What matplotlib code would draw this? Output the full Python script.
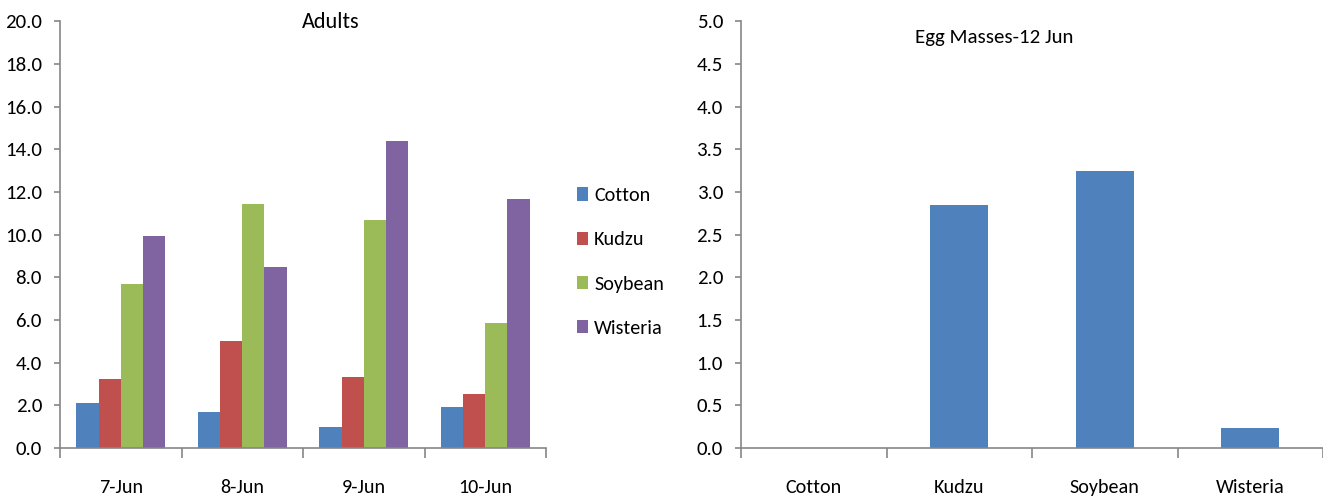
import numpy as np
import matplotlib.pyplot as plt
from matplotlib.patches import Patch

dates = ["7-Jun", "8-Jun", "9-Jun", "10-Jun"]
plants = ["Cotton", "Kudzu", "Soybean", "Wisteria"]
cotton = [2.10, 1.67, 0.97, 1.93]
kudzu = [3.25, 5.00, 3.33, 2.55]
soybean = [7.67, 11.42, 10.71, 5.84]
wisteria = [9.94, 8.47, 14.38, 11.67]
egg_masses = [0.0, 2.85, 3.25, 0.24]

colors = ["#4F81BD", "#C0504D", "#9BBB59", "#8064A2"]
axis_grey = "#868686"

plt.rcParams["font.family"] = ["Carlito", "Liberation Sans", "DejaVu Sans"]
plt.rcParams["font.size"] = 14


def style_axes(ax, ymax, ystep):
    for side in ["top", "right"]:
        ax.spines[side].set_visible(False)
    for side in ["left", "bottom"]:
        ax.spines[side].set_color(axis_grey)
        ax.spines[side].set_linewidth(1.2)
    ax.set_xlim(-0.5, 3.5)
    ax.set_ylim(0, ymax)
    ax.set_yticks(np.arange(0, ymax + ystep / 2, ystep))
    ax.yaxis.set_major_formatter(plt.FormatStrFormatter("%.1f"))
    ax.tick_params(axis="y", length=4, width=1.2, color=axis_grey, pad=9, labelsize=15)
    # category boundaries get the tick marks, labels sit at the centres
    ax.set_xticks(np.arange(-0.5, 4, 1.0))
    ax.set_xticklabels([])
    ax.tick_params(axis="x", which="major", length=7, width=1.2, color=axis_grey)
    ax.set_xticks(np.arange(4), minor=True)
    ax.tick_params(axis="x", which="minor", length=0, pad=22, labelsize=14.5)


fig = plt.figure(figsize=(13.23, 5.0), dpi=100)

# Adults
ax1 = fig.add_axes([60 / 1323, 0.104, 486 / 1323, 0.853])
series = [cotton, kudzu, soybean, wisteria]
x = np.arange(len(dates))
bw = 0.73 / 4
for i, vals in enumerate(series):
    ax1.bar(x + (i - 1.5) * bw, vals, width=bw, color=colors[i], label=plants[i])
style_axes(ax1, 20.0, 2.0)
ax1.set_xticklabels(dates, minor=True)

handles = [Patch(facecolor=c) for c in colors]
fig.legend(handles, plants, loc="center left", bbox_to_anchor=(577 / 1323, 0.476),
           frameon=False, borderpad=0, borderaxespad=0, handlelength=0.55,
           handleheight=0.65, handletextpad=0.3, labelspacing=1.35, fontsize=14.5)
fig.text(331 / 1323, 1 - 22 / 500, "Adults", ha="center", va="center", fontsize=16)

# Egg masses
ax2 = fig.add_axes([741 / 1323, 0.104, 582 / 1323, 0.853])
ax2.bar(x, egg_masses, width=0.4, color=colors[0])
style_axes(ax2, 5.0, 0.5)
ax2.set_xticklabels(plants, minor=True)
fig.text(994 / 1323, 1 - 37 / 500, "Egg Masses-12 Jun", ha="center", va="center", fontsize=15)

fig.savefig("out.png", dpi=100)
